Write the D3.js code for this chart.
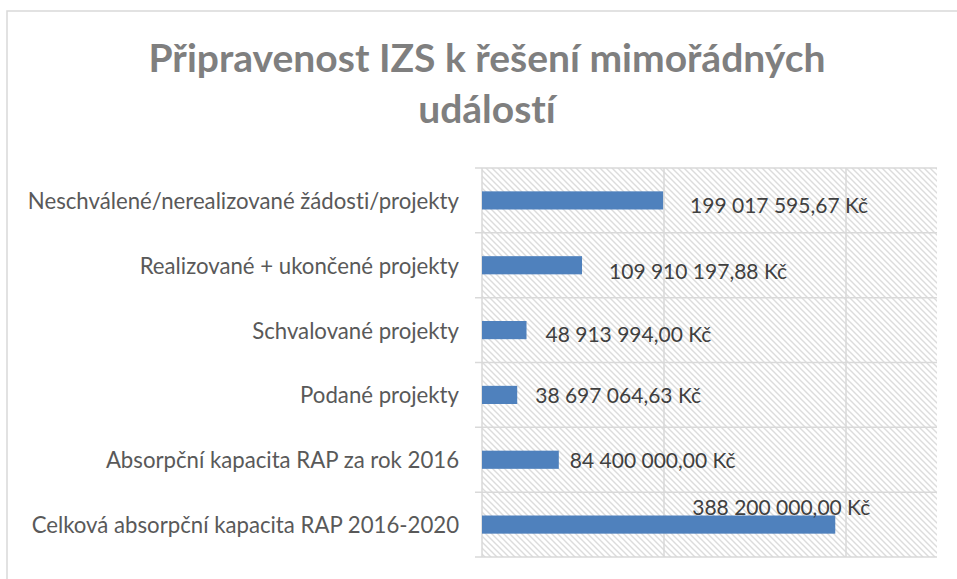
<!DOCTYPE html>
<html><head><meta charset="utf-8">
<script src="https://cdn.jsdelivr.net/npm/d3@7"></script>
<style>body{margin:0;background:#fff} text{font-variant-ligatures:none;font-feature-settings:"liga" 0}</style>
</head><body><svg id="c" width="957" height="579"></svg>
<script>
const categories = [
  "Neschválené/nerealizované žádosti/projekty",
  "Realizované + ukončené projekty",
  "Schvalované projekty",
  "Podané projekty",
  "Absorpční kapacita RAP za rok 2016",
  "Celková absorpční kapacita RAP 2016-2020"
];
const values = [199017595.67, 109910197.88, 48913994.00, 38697064.63, 84400000.00, 388200000.00];
const xTicks = [0, 200000000, 400000000];
const xMax = 500000000;
const titleLines = ["Připravenost IZS k řešení mimořádných", "událostí"];
// label placement (layout only)
const labelDx = [27, 27, 19, 18, 11, -143];
const labelDy = [4, 5, 3, 0, 0, -18];

const svg = d3.select("#c");
const plot = {left: 482, right: 937, top: 168, bottom: 557};
const font = "Lato, 'Open Sans', sans-serif";
const grid = "#d9d9d9";

// chart border
svg.append("path").attr("d", "M7,580 V11 H960").attr("fill", "none")
  .attr("stroke", grid).attr("stroke-width", 1.5);

// pattern
const defs = svg.append("defs");
const pat = defs.append("pattern").attr("id", "hatch").attr("patternUnits", "userSpaceOnUse")
  .attr("width", 6).attr("height", 6);
pat.append("rect").attr("width", 6).attr("height", 6).attr("fill", "#fff");
pat.append("path").attr("d", "M0,0 L6,6 M-1,5 L1,7 M5,-1 L7,1")
  .attr("stroke", "#dcdcdc").attr("stroke-width", 1.4);

const x = d3.scaleLinear().domain([0, xMax]).range([plot.left, plot.right]);
const y = d3.scaleBand().domain(categories).range([plot.top, plot.bottom])
  .paddingInner(0.72).paddingOuter(0.36);

svg.append("rect").attr("x", plot.left).attr("y", plot.top)
  .attr("width", plot.right - plot.left).attr("height", plot.bottom - plot.top)
  .attr("fill", "url(#hatch)");

// vertical gridlines
svg.append("g").selectAll("line").data(xTicks).join("line")
  .attr("x1", d => x(d)).attr("x2", d => x(d))
  .attr("y1", plot.top).attr("y2", plot.bottom)
  .attr("stroke", grid).attr("stroke-width", 1.5);

// horizontal category separators with ticks
const step = y.step();
const seps = d3.range(categories.length + 1).map(i => plot.top + i * step);
svg.append("g").selectAll("line").data(seps).join("line")
  .attr("x1", plot.left - 7).attr("x2", plot.right)
  .attr("y1", d => d).attr("y2", d => d)
  .attr("stroke", grid).attr("stroke-width", 1.5);

// category labels
svg.append("g").selectAll("text").data(categories).join("text")
  .attr("x", 459).attr("y", d => y(d) + y.bandwidth() / 2)
  .attr("text-anchor", "end").attr("dominant-baseline", "central")
  .attr("font-family", font).attr("font-size", 22.2).attr("fill", "#595959")
  .text(d => d);

// bars
svg.append("g").selectAll("rect").data(values).join("rect")
  .attr("x", x(0)).attr("y", (d, i) => y(categories[i]))
  .attr("width", d => x(d) - x(0)).attr("height", y.bandwidth())
  .attr("fill", "#4f81bd");

// value labels
const loc = d3.formatLocale({decimal: ",", thousands: "\u00a0", grouping: [3], currency: ["", " Kč"]});
const fmt = loc.format(",.2f");
svg.append("g").selectAll("text").data(values).join("text")
  .attr("x", (d, i) => x(d) + labelDx[i])
  .attr("y", (d, i) => y(categories[i]) + y.bandwidth() / 2 + labelDy[i])
  .attr("dominant-baseline", "central")
  .attr("font-family", font).attr("font-size", 21).attr("fill", "#404040")
  .text(d => fmt(d) + " Kč");

// title
svg.append("g").selectAll("text").data(titleLines).join("text")
  .attr("x", 487).attr("y", (d, i) => 72 + i * 51)
  .attr("text-anchor", "middle")
  .attr("font-family", font).attr("font-weight", "bold").attr("font-size", 39)
  .attr("fill", "#7f7f7f")
  .text(d => d);
</script>
</body></html>
